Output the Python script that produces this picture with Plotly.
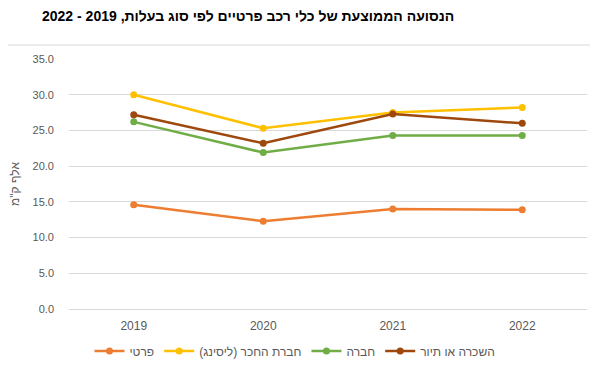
import plotly.graph_objects as go

RLM = "\u200f"

years = ["2019", "2020", "2021", "2022"]
series_names = ["פרטי", "חברת החכר (ליסינג)", "חברה", "השכרה או תיור"]
private = [14.6, 12.3, 14.0, 13.9]
leasing = [30.0, 25.3, 27.5, 28.2]
company = [26.2, 21.9, 24.3, 24.3]
rental = [27.2, 23.2, 27.3, 26.0]
colors = ["#ED7D31", "#FFC000", "#70AD47", "#9E480E"]
y_ticks = [0, 5, 10, 15, 20, 25, 30, 35]

title_text = "הנסועה הממוצעת של כלי רכב פרטיים לפי סוג בעלות, 2019 - 2022"
y_title = 'אלף ק"מ'

fig = go.Figure()
for name, vals, col in zip(series_names, [private, leasing, company, rental], colors):
    fig.add_trace(go.Scatter(
        x=years, y=vals, name=RLM + name + RLM, mode="lines+markers",
        line=dict(color=col, width=2.5),
        marker=dict(color=col, size=7),
    ))

# page body has an 8px margin, so figure coords = screen coords - 8
OFF = 8
W, H = 598, 374
L, R, T, B = 69 - OFF, 19, 59 - OFF, 73

fig.update_layout(
    width=W, height=H,
    margin=dict(l=L, r=R, t=T, b=B, autoexpand=False),
    paper_bgcolor="white", plot_bgcolor="white",
    font=dict(family="Liberation Sans, Arial, sans-serif", color="#595959", size=12),
    title=dict(text=RLM + title_text + RLM, x=34 / W, xanchor="left",
               y=1 - 8 / H, yanchor="middle",
               font=dict(size=14, color="black", family="Liberation Sans, Arial, sans-serif",
                         weight="bold")),
    showlegend=True,
    legend=dict(orientation="h", xref="container", yref="container",
                x=287 / W, xanchor="center", y=1 - 343 / H, yanchor="middle",
                font=dict(size=12, color="#595959"), itemwidth=30,
                traceorder="normal"),
    xaxis=dict(type="category", range=[-0.5, 3.5], showgrid=False, showline=False,
               zeroline=False, ticks="", tickfont=dict(size=12, color="#595959"),
               ticklabelstandoff=8, fixedrange=True),
    yaxis=dict(range=[0, 35], tickvals=y_ticks, tickformat=".1f",
               showgrid=True, gridcolor="#D9D9D9", gridwidth=1,
               zeroline=True, zerolinecolor="#D9D9D9", zerolinewidth=1,
               showline=False, ticks="", ticklabelstandoff=14,
               tickfont=dict(size=11, color="#595959"),
               title=dict(text=RLM + y_title + RLM, standoff=19,
                          font=dict(size=12, color="#595959"))),
    shapes=[dict(type="line", xref="paper", yref="paper",
                 x0=-L / (W - L - R), x1=(W - L) / (W - L - R),
                 y0=(H - B - (45 - OFF)) / (H - T - B), y1=(H - B - (45 - OFF)) / (H - T - B),
                 line=dict(color="#D9D9D9", width=1))],
)

fig.write_html("out.html")
